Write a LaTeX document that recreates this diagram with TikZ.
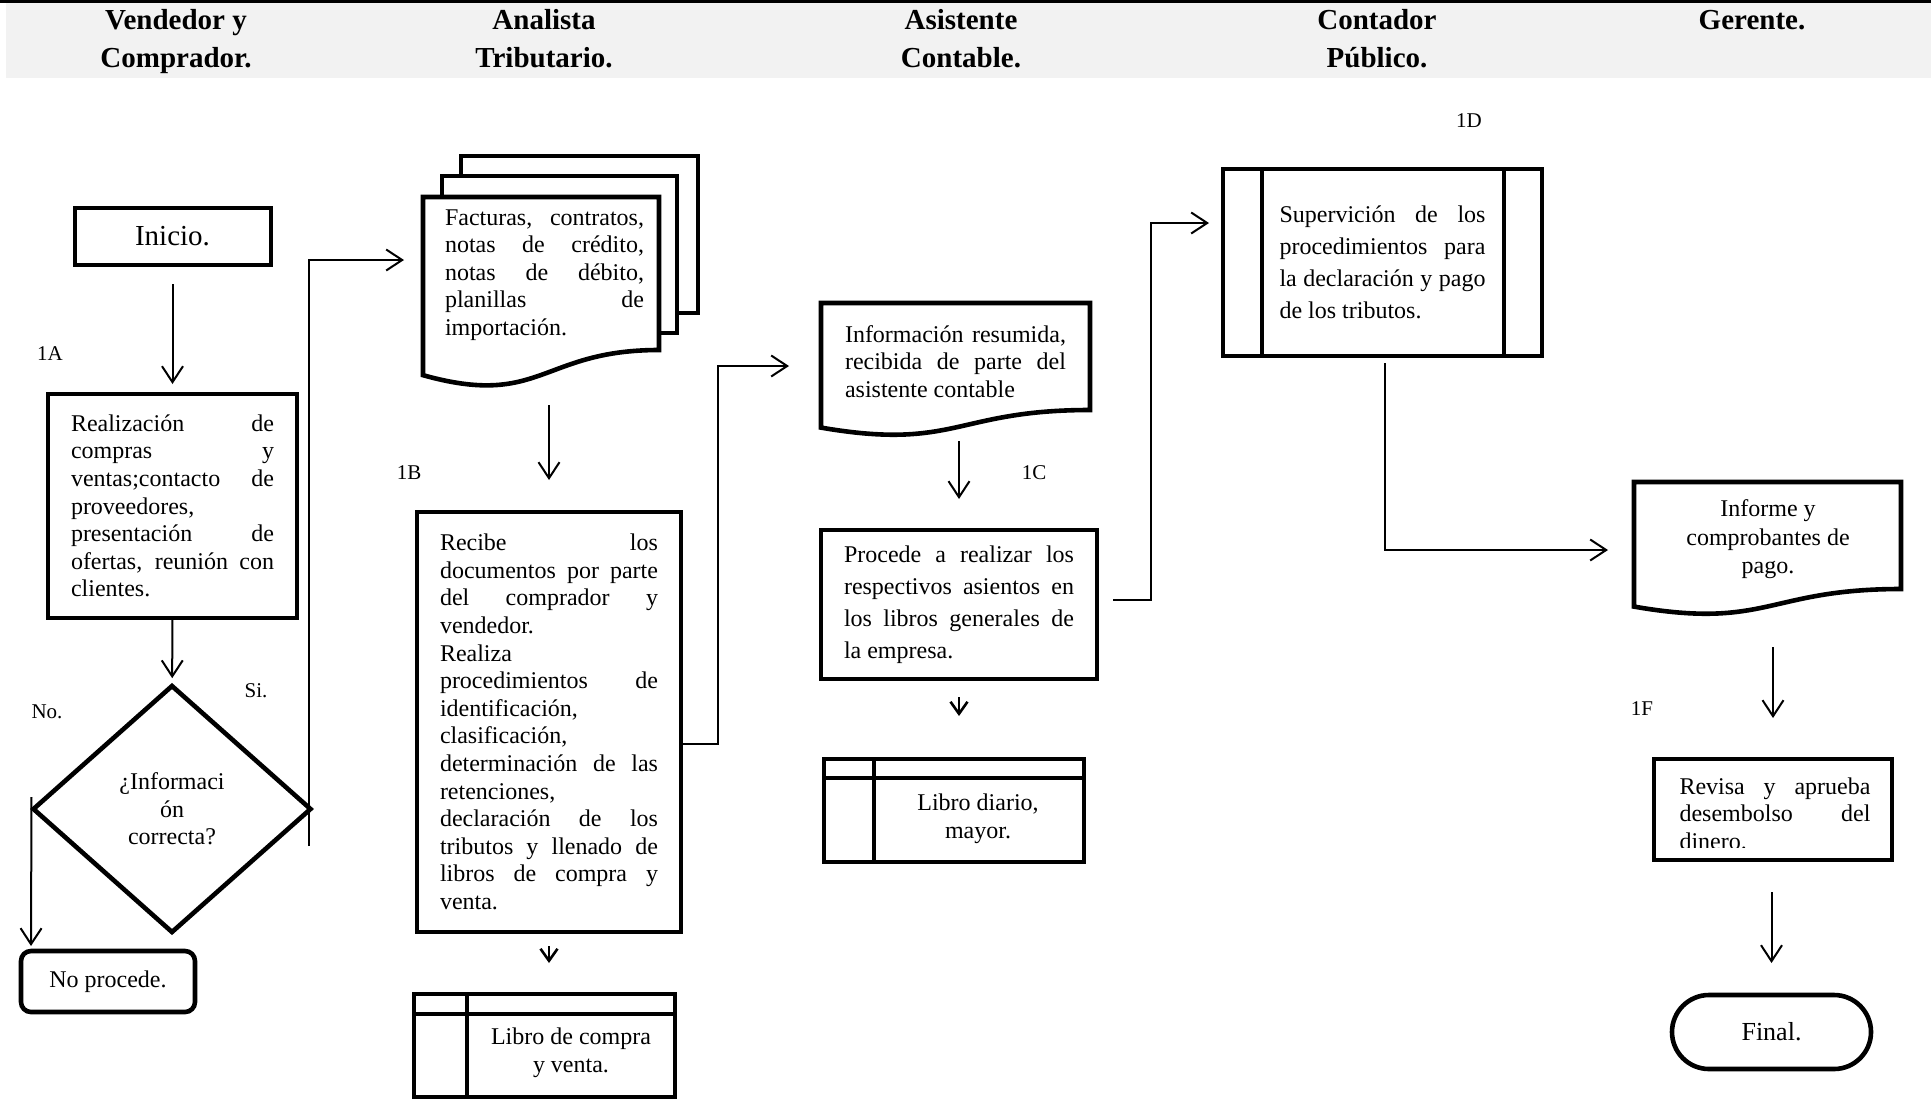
\documentclass[tikz,border=0pt]{standalone}
\usepackage{fontspec}
\setmainfont{Liberation Serif}
\usetikzlibrary{arrows.meta,calc,shapes.geometric}
\definecolor{hdrgray}{HTML}{F2F2F2}
\newcommand\jw{100pt}
\newcommand\ws{\spaceskip=0.25em\relax\xspaceskip=0.25em\relax}
\newcommand\J[1]{{\spaceskip=0.25em plus 1fil\relax\xspaceskip=0.25em plus 1fil\relax\makebox[\jw][s]{#1}}}
\newcommand\docshape[2]{%
  \draw[docline] (#1.north west) -- (#1.north east) -- (#1.south east)
    .. controls (#1.south) and ($(#1.south)+(0,{0.381*#2})$) .. ($(#1.south west)+(0,{0.1645*#2})$) -- cycle;}
\begin{document}
\begin{tikzpicture}[x=0.5pt,y=-0.5pt,
  arr/.style={line width=1pt,-{Straight Barb[length=8pt,width=10.5pt]}},
  sarr/.style={line width=1.3pt,-{Straight Barb[length=6pt,width=8.5pt]}},
  procbox/.style={draw,line width=2.3pt,rectangle,inner sep=0pt,outer sep=0pt,fill=white,
     font=\fontsize{12}{13.8}\selectfont,align=left},
  jw/.style={text width=#1,execute at begin node={\setlength{\parindent}{0pt}\renewcommand\jw{#1}}},
  docframe/.style={rectangle,inner sep=0pt,outer sep=0pt},
  docline/.style={draw,line width=2.3pt,fill=white},
  innerline/.style={line width=2.3pt},
  txt/.style={inner sep=0pt,outer sep=0pt,font=\fontsize{12}{13.8}\selectfont,align=left},
  lbl/.style={inner sep=0pt,font=\fontsize{10.5}{12}\selectfont},
  hdr/.style={inner sep=0pt,font=\bfseries\fontsize{14.5}{19}\selectfont,align=center},
]
\useasboundingbox (0,0) rectangle (1931,1098);
% header band
\fill[hdrgray] (6,2) rectangle (1931,78);
\draw[line width=1.5pt] (0,1.5) -- (1931,1.5);
\node[hdr] (h1) at (176,41) {\ws\strut Vendedor y\\\strut Comprador.};
\node[hdr] (h2) at (544,41) {\strut Analista\\\strut Tributario.};
\node[hdr] (h3) at (961,41) {\strut Asistente\\\strut Contable.};
\node[hdr] (h4) at (1377,41) {\strut Contador\\\strut Público.};
\node[hdr] (h5) at (1752,20) {Gerente.};

% column 1
\node[procbox,line width=2pt,minimum width=98pt,minimum height=28.5pt,font=\fontsize{14.5}{16}\selectfont] (ini) at (172.5,236.5) {Inicio.};
\node[procbox,minimum width=124.5pt,minimum height=112pt,jw=101.5pt] (real) at (172.5,506)
 {\ws\J{Realización de}\\\J{compras y}\\\J{ventas;contacto de}\\proveedores,\\\J{presentación de}\\\J{ofertas, reunión con}\\clientes.};
\node[draw,shape=diamond,line width=2.3pt,inner sep=0pt,outer sep=0pt,minimum width=138.5pt,minimum height=123pt,
  align=center,font=\fontsize{12}{13.8}\selectfont] (dia) at (172,809) {¿Informaci\\ón\\correcta?};
\node[procbox,rounded corners=5pt,minimum width=87pt,minimum height=30.5pt] (np) at (108,981.5) {\ws No procede.};
\node[lbl] (l1a) at (50,354) {1A};
\node[lbl] (lno) at (47,712) {No.};
\node[lbl] (lsi) at (256,691) {Si.};

% column 2
\node[procbox,minimum width=118.5pt,minimum height=78.5pt] (back1) at (579.5,234.5) {};
\node[procbox,minimum width=117.5pt,minimum height=78.5pt] (back2) at (559.5,254.5) {};
\node[docframe,minimum width=118pt,minimum height=76.5pt] (doc1) at (541,273.5) {};
\docshape{doc1}{153}
\node[txt,jw=99.5pt] (doc1t) at (544.5,275)
 {\ws\J{Facturas, contratos,}\\\J{notas de crédito,}\\\J{notas de débito,}\\\J{planillas de}\\importación.};
\node[procbox,minimum width=132pt,minimum height=210pt,jw=109pt] (rec) at (549,722)
 {\ws\J{Recibe los}\\\J{documentos por parte}\\\J{del comprador y}\\vendedor.\\Realiza\\\J{procedimientos de}\\identificación,\\clasificación,\\\J{determinación de las}\\retenciones,\\\J{declaración de los}\\\J{tributos y llenado de}\\\J{libros de compra y}\\venta.};
\node[procbox,minimum width=130.5pt,minimum height=51.5pt] (lc) at (544.5,1045.5) {};
\draw[innerline] ([shift={(0,20)}]lc.north west) -- ([shift={(0,20)}]lc.north east);
\draw[innerline] ([shift={(53,0)}]lc.north west) -- ([shift={(53,0)}]lc.south west);
\node[txt,align=center] (lct) at (571,1053) {\ws Libro de compra\\y venta.};
\node[lbl] (l1b) at (409,473) {1B};

% column 3
\node[docframe,minimum width=134.5pt,minimum height=53.5pt] (info) at (955.5,356.5) {};
\docshape{info}{107}
\node[txt,jw=110.5pt] (infot) at (955.5,361.5)
 {\ws\J{Información resumida,}\\\J{recibida de parte del}\\asistente contable};
\node[procbox,minimum width=138pt,minimum height=74.5pt,jw=115pt,font=\fontsize{12}{16}\selectfont] (proc) at (959,604.5)
 {\ws\J{Procede a realizar los}\\\J{respectivos asientos en}\\\J{los libros generales de}\\la empresa.};
\node[procbox,minimum width=130pt,minimum height=51.5pt] (ld) at (954,810.5) {};
\draw[innerline] ([shift={(0,19)}]ld.north west) -- ([shift={(0,19)}]ld.north east);
\draw[innerline] ([shift={(50,0)}]ld.north west) -- ([shift={(50,0)}]ld.south west);
\node[txt,align=center] (ldt) at (978,819) {\ws Libro diario,\\mayor.};
\node[lbl] (l1c) at (1034,473) {1C};

% column 4
\node[procbox,minimum width=159.5pt,minimum height=93.5pt,jw=103pt,font=\fontsize{12}{16}\selectfont] (sup) at (1382.5,262.5)
 {\ws\J{Supervición de los}\\\J{procedimientos para}\\\J{la declaración y pago}\\de los tributos.};
\draw[innerline] ([shift={(39,0)}]sup.north west) -- ([shift={(39,0)}]sup.south west);
\draw[innerline] ([shift={(-38,0)}]sup.north east) -- ([shift={(-38,0)}]sup.south east);
\node[lbl] (l1d) at (1469,121) {1D};

% column 5
\node[docframe,minimum width=133.5pt,minimum height=53.5pt] (inf) at (1767.5,535.5) {};
\docshape{inf}{107}
\node[txt,align=center,font=\fontsize{12}{14.2}\selectfont] (inft) at (1768,539.5) {\ws Informe y\\comprobantes de\\pago.};
\node[procbox,line width=2pt,minimum width=119pt,minimum height=50.5pt] (rev) at (1773,809.5) {};
\begin{scope}
  \clip (rev.north west) rectangle ([shift={(0,-13)}]rev.south east);
  \node[txt,jw=95.5pt] (revt) at ([shift={(2,4)}]rev.center)
   {\ws\J{Revisa y aprueba}\\\J{desembolso del}\\dinero.};
\end{scope}
\node[procbox,rounded corners=18.5pt,minimum width=99.5pt,minimum height=37pt,font=\fontsize{13}{15}\selectfont] (fin) at (1771.5,1032) {Final.};
\node[lbl] (l1f) at (1642,709) {1F};

% connectors
\draw[arr,shorten <=9.5pt,shorten >=5pt] (ini) -- (real);
\draw[arr,shorten >=4pt] (real) -- (dia);
\draw[arr] ([shift={(-2,37)}]dia.east) |- ([shift={(-19,63)}]doc1.north west);
\draw[arr] ([shift={(-2,-12)}]dia.west) -- ([shift={(10,-5)}]np.north west);
\draw[arr,shorten <=27.5pt,shorten >=16pt] (doc1.south -| rec.north) -- (rec.north);
\draw[arr] ([shift={(0,22)}]rec.east) -- ++(37,0) |- ([shift={(-32,63)}]info.north west);
\draw[sarr,shorten <=7pt,shorten >=15.5pt] (rec.south) -- (rec.south |- lc.north);
\draw[arr,shorten <=15.5pt,shorten >=15.5pt] (info.south -| proc.north) -- (proc.north);
\draw[sarr,shorten <=9pt,shorten >=21.5pt] (proc.south) -- (proc.south |- ld.north);
\draw[arr] ([shift={(16,-4.5)}]proc.east) -- ++(38,0) |- ([shift={(-14,54)}]sup.north west);
\draw[arr] ([shift={(2.5,7)}]sup.south) |- ([shift={(-26,68)}]inf.north west);
\draw[arr,shorten <=29pt,shorten >=20.5pt] (inf.south -| rev.north) -- (rev.north);
\draw[arr,shorten <=16pt,shorten >=16pt] (rev.south -| fin.north) -- (fin.north);
\end{tikzpicture}
\end{document}
